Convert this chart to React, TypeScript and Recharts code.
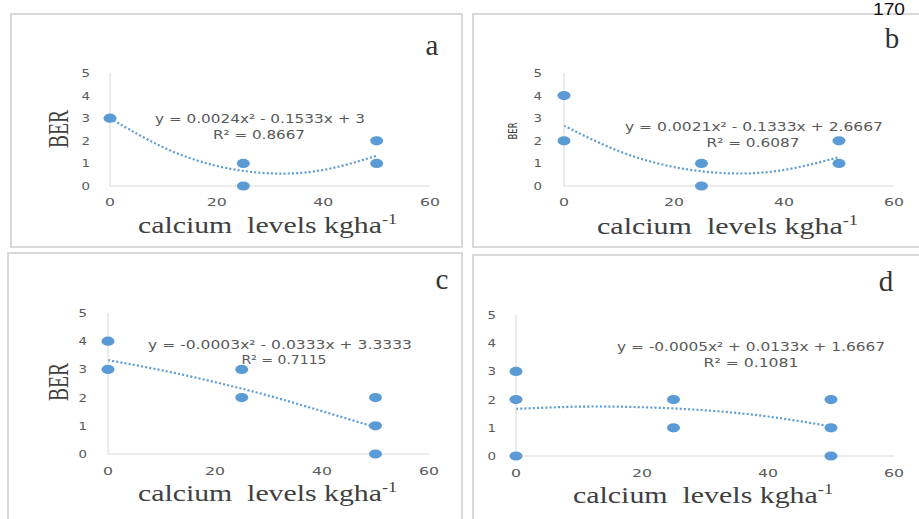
import { ComposedChart, Scatter, Line, XAxis, YAxis } from 'recharts';

const aX = [0, 25, 25, 50, 50];
const aY = [3, 1, 0, 2, 1];
const bX = [0, 0, 25, 25, 50, 50];
const bY = [4, 2, 1, 0, 2, 1];
const cX = [0, 0, 25, 25, 50, 50, 50];
const cY = [4, 3, 3, 2, 2, 1, 0];
const dX = [0, 0, 0, 25, 25, 50, 50, 50];
const dY = [3, 2, 0, 2, 1, 2, 1, 0];

// trendline heights
const trendX = [0, 10, 20, 30, 40, 50];
const trendA = [3.0, 1.71, 0.89, 0.56, 0.71, 1.34];
const trendB = [2.67, 1.54, 0.84, 0.56, 0.71, 1.28];
const trendC = [3.33, 2.97, 2.55, 2.07, 1.52, 0.95];
const trendD = [1.67, 1.75, 1.73, 1.62, 1.4, 1.05];

const xTicks = [0, 20, 40, 60];
const yTicks = [0, 1, 2, 3, 4, 5];

const BLUE = '#5b9bd5';
const GRID = '#d9d9d9';
const TICK = '#595959';
const SANS = '"DejaVu Sans", sans-serif';
const SERIF = '"Liberation Serif", "Times New Roman", serif';

const toPts = (xs: number[], ys: number[]) => xs.map((x, i) => ({ x, y: ys[i] }));

const Dot = (props: any) => <ellipse cx={props.cx} cy={props.cy} rx={6.5} ry={4.6} fill={BLUE} />;

// the scanned tick digits are wide and flat, so stretch them
const XTick = (props: any) => {
    const s = String(props.payload.value);
    return (
        <text x={props.x} y={props.y} dy="0.71em" textAnchor="middle" fill={TICK} fontFamily={SANS} fontSize={11}
            textLength={s.length * 10} lengthAdjust="spacingAndGlyphs">
            {s}
        </text>
    );
};

const YTick = (props: any) => (
    <text x={props.x} y={props.y} dy="0.36em" textAnchor="end" fill={TICK} fontFamily={SANS} fontSize={11}
        textLength={8.5} lengthAdjust="spacingAndGlyphs">
        {props.payload.value}
    </text>
);

const AX = 30; // room given to each axis

interface PanelProps {
    left: number;
    top: number;
    width: number;
    height: number;
    margin: { top: number; right: number; bottom: number; left: number };
    xs: number[];
    ys: number[];
    trend: number[];
    yGap: number;
    xGap: number;
}

function Panel({ left, top, width, height, margin, xs, ys, trend, yGap, xGap }: PanelProps) {
    const m = { ...margin, left: margin.left - AX, bottom: margin.bottom - AX };
    return (
        <div style={{ position: 'absolute', left, top }}>
            <ComposedChart width={width} height={height} margin={m}>
                <XAxis
                    dataKey="x"
                    type="number"
                    domain={[0, 60]}
                    ticks={xTicks}
                    interval={0}
                    height={AX}
                    stroke={GRID}
                    tickLine={false}
                    tickSize={0}
                    tickMargin={xGap}
                    tick={XTick}
                />
                <YAxis
                    dataKey="y"
                    type="number"
                    domain={[0, 5]}
                    ticks={yTicks}
                    interval={0}
                    width={AX}
                    stroke={GRID}
                    tickLine={false}
                    tickSize={0}
                    tickMargin={yGap}
                    tick={YTick}
                />
                <Line
                    data={toPts(trendX, trend)}
                    dataKey="y"
                    type="natural"
                    stroke={BLUE}
                    strokeWidth={2.2}
                    strokeDasharray="2 2.2"
                    dot={false}
                    activeDot={false}
                    isAnimationActive={false}
                />
                <Scatter data={toPts(xs, ys)} dataKey="y" shape={Dot} isAnimationActive={false} />
            </ComposedChart>
        </div>
    );
}

const box = (l: number, t: number, w: number, h: number) => ({
    position: 'absolute' as const,
    left: l,
    top: t,
    width: w,
    height: h,
    border: `2px solid ${GRID}`,
    boxSizing: 'border-box' as const,
});

function XLabel({ x, y, w }: { x: number; y: number; w: number }) {
    return (
        <text x={x} y={y} fontFamily={SERIF} fontSize={23} fill="#404040" textLength={w} lengthAdjust="spacingAndGlyphs">
            {'calcium\u00a0\u00a0levels kgha'}
            <tspan fontSize={14} dy={-9}>-1</tspan>
        </text>
    );
}

function Eq({ cx, y, w, text }: { cx: number; y: number; w: number; text: string }) {
    return (
        <text x={cx - w / 2} y={y} fontFamily={SANS} fontSize={12} fill={TICK} textLength={w} lengthAdjust="spacingAndGlyphs">
            {text}
        </text>
    );
}

function BigBER({ x, cy }: { x: number; cy: number }) {
    return (
        <text
            x={0}
            y={0}
            transform={`translate(${x},${cy}) rotate(-90)`}
            textAnchor="middle"
            fontFamily={SERIF}
            fontSize={30}
            fill="#404040"
            textLength={38}
            lengthAdjust="spacingAndGlyphs"
        >
            BER
        </text>
    );
}

export default function App() {
    return (
        <div style={{ position: 'absolute', left: 0, top: 0, width: 919, height: 519, background: '#fff', overflow: 'hidden' }}>
            <div style={box(10, 13, 453, 235)} />
            <div style={box(472, 13, 450, 235)} />
            <div style={box(7, 252, 456, 280)} />
            <div style={box(472, 254, 450, 280)} />

            <Panel left={10} top={14} width={453} height={233}
                margin={{ top: 59, right: 33, bottom: 61, left: 100 }}
                xs={aX} ys={aY} trend={trendA} yGap={20} xGap={12} />
            <Panel left={472} top={14} width={445} height={233}
                margin={{ top: 59, right: 23, bottom: 61, left: 92 }}
                xs={bX} ys={bY} trend={trendB} yGap={22} xGap={12} />
            <Panel left={7} top={254} width={456} height={265}
                margin={{ top: 59, right: 34, bottom: 65, left: 101 }}
                xs={cX} ys={cY} trend={trendC} yGap={21} xGap={13} />
            <Panel left={472} top={255} width={445} height={264}
                margin={{ top: 60, right: 23, bottom: 63, left: 44 }}
                xs={dX} ys={dY} trend={trendD} yGap={20} xGap={13} />

            <svg width={919} height={519} style={{ position: 'absolute', left: 0, top: 0, pointerEvents: 'none' }}>
                <text x={873} y={15} fontFamily='"Liberation Sans", sans-serif' fontSize={17} fill="#111" textLength={32} lengthAdjust="spacingAndGlyphs">170</text>

                <text x={432} y={55} textAnchor="middle" fontFamily={SERIF} fontSize={29} fill="#333">a</text>
                <text x={892} y={48} textAnchor="middle" fontFamily={SERIF} fontSize={29} fill="#333">b</text>
                <text x={442} y={289} textAnchor="middle" fontFamily={SERIF} fontSize={29} fill="#333">c</text>
                <text x={886} y={291} textAnchor="middle" fontFamily={SERIF} fontSize={29} fill="#333">d</text>

                <BigBER x={68} cy={129} />
                <BigBER x={68} cy={382} />
                <text x={0} y={0} transform="translate(517,131) rotate(-90)" textAnchor="middle" fontFamily={SANS} fontSize={12} fill="#404040" textLength={17} lengthAdjust="spacingAndGlyphs">BER</text>

                <XLabel x={138} y={233} w={259} />
                <XLabel x={597} y={234} w={261} />
                <XLabel x={138} y={501} w={259} />
                <XLabel x={573} y={503} w={260} />

                <Eq cx={260} y={123} w={210} text="y = 0.0024x² - 0.1533x + 3" />
                <Eq cx={259} y={139} w={92} text="R² = 0.8667" />
                <Eq cx={754} y={131} w={258} text="y = 0.0021x² - 0.1333x + 2.6667" />
                <Eq cx={753} y={147} w={93} text="R² = 0.6087" />
                <Eq cx={280} y={349} w={264} text="y = -0.0003x² - 0.0333x + 3.3333" />
                <Eq cx={284} y={364} w={85} text="R² = 0.7115" />
                <Eq cx={751} y={351} w={268} text="y = -0.0005x² + 0.0133x + 1.6667" />
                <Eq cx={751} y={367} w={95} text="R² = 0.1081" />
            </svg>
        </div>
    );
}
